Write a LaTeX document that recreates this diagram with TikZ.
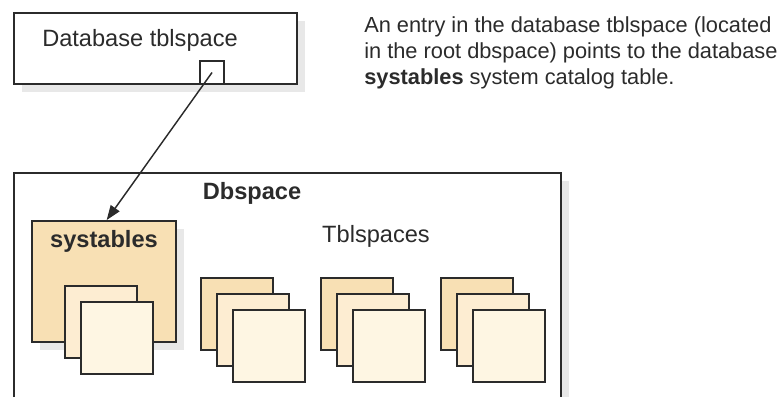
\documentclass[tikz,border=0pt]{standalone}
\usepackage{fontspec}
\setmainfont{Liberation Sans}
\usetikzlibrary{arrows.meta,shadows}
\definecolor{tanA}{HTML}{F8E0B4}
\definecolor{tanB}{HTML}{FDEDD2}
\definecolor{tanC}{HTML}{FEF6E3}
\definecolor{ink}{HTML}{2B2B2B}
\definecolor{shadowgrey}{HTML}{E8E8E8}
\begin{document}
\begin{tikzpicture}[x=0.75pt,y=-0.75pt,
  box/.style={draw=ink, line width=1.4pt, inner sep=0pt},
  shadowed/.style={drop shadow={shadow xshift=6pt, shadow yshift=-6pt, fill=shadowgrey, opacity=1}},
  sheet/.style={box, minimum width=54pt, minimum height=54pt, anchor=north west},
  lbl/.style={text=ink, inner sep=0pt, font=\fontsize{17.7}{21}\selectfont},
  lblbold/.style={lbl, font=\fontsize{17.7}{21}\selectfont\bfseries}]
\useasboundingbox (0,0) rectangle (778,397);

% database tblspace and its entry
\node[box, fill=white, shadowed, minimum width=212.25pt, minimum height=53.25pt] (dbtbl) at (155.5,48.5) {};
\node[lbl] (dbtbltext) at (140,40) {Database tblspace};
\node[box, fill=white, minimum width=18pt, minimum height=17.25pt, anchor=south, xshift=42.4pt] (entry) at (dbtbl.south) {};

\node[lbl, font=\fontsize{16.35}{19.5}\selectfont, anchor=north west, align=left] (note) at (364,16)
{An entry in the database tblspace (located\\
in the root dbspace) points to the database\\
\textbf{systables} system catalog table.};

% dbspace frame, open at the bottom
\fill[shadowgrey] (561,181) rectangle (569,397);
\draw[ink, line width=1.4pt] (14,397) -- (14,173) -- (561,173) -- (561,397);
\node[lblbold] (dbspace) at (252,193) {Dbspace};
\node[lbl] (tblspaces) at (376,236) {Tblspaces};

% systables
\node[box, fill=tanA, shadowed, minimum width=108pt, minimum height=90.75pt] (systables) at (104,281.5) {};
\node[lblbold] (systext) at (104,241) {systables};
\node[sheet, fill=tanB] (sys-b) at (64,285) {};
\node[sheet, fill=tanC] (sys-c) at (80,301) {};

% other tblspaces
\foreach \gx [count=\i] in {200,320,440} {
  \node[sheet, fill=tanA] (tbl\i-a) at (\gx,277) {};
  \node[sheet, fill=tanB] (tbl\i-b) at (\gx+16,293) {};
  \node[sheet, fill=tanC] (tbl\i-c) at (\gx+32,309) {};
}

\draw[ink, line width=1.1pt, -{Stealth[length=11pt, width=8pt, inset=0pt]}] (entry.center) -- ([xshift=2pt]systables.north);
\end{tikzpicture}
\end{document}
